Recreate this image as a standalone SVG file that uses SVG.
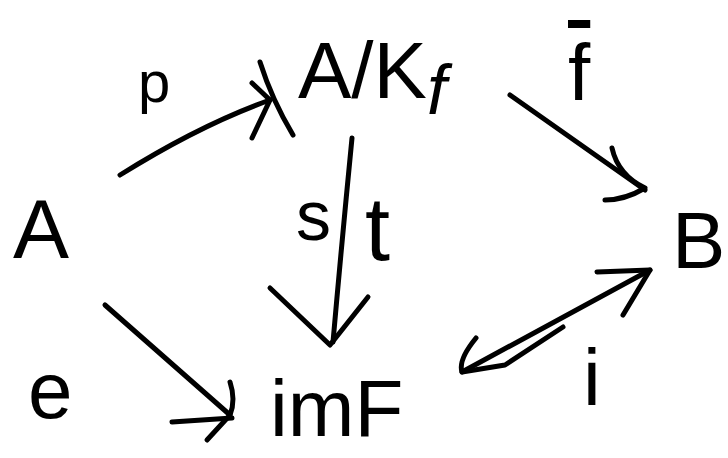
<svg xmlns="http://www.w3.org/2000/svg" width="728" height="458" viewBox="0 0 728 458">
<style>
.t{font-family:"Liberation Sans","DejaVu Sans",sans-serif;fill:#000}
.c path{fill:none;stroke:#000;stroke-width:5;stroke-linecap:round;stroke-linejoin:round}
</style>
<rect width="728" height="458" fill="#fff"/>
<g id="nodeA"><text class="t" x="13" y="258" font-size="84">A</text></g>
<g id="nodeAK"><text class="t" x="298" y="98" font-size="80">A/K<tspan font-size="70" dy="16" font-style="italic">f</tspan></text></g>
<g id="nodeB"><text class="t" x="672" y="268" font-size="80">B</text></g>
<g id="nodeIm"><text class="t" x="270" y="436" font-size="80">imF</text></g>
<g id="labels">
<text class="t" x="138" y="102" font-size="58">p</text>
<text class="t" x="568" y="100" font-size="80" text-decoration="overline">f</text>
<text class="t" x="296" y="240" font-size="70">s</text>
<text class="t" x="365" y="260" font-size="90">t</text>
<text class="t" x="28" y="418" font-size="80">e</text>
<text class="t" x="583" y="405" font-size="80">i</text>
</g>
<g id="connectors" class="c">
<path d="M120,175 Q200,125 270,100"/>
<path d="M252,83 L270,100 L252,138"/>
<path d="M260,62 Q272,100 293,135"/>
<path d="M510,95 L645,190"/>
<path d="M612,148 Q618,175 645,188 Q625,200 605,200"/>
<path d="M352,138 Q342,240 333,342"/>
<path d="M270,288 L330,345 L368,297"/>
<path d="M105,305 L230,415"/>
<path d="M230,382 Q236,400 230,415 L207,440"/>
<path d="M172,422 L232,418"/>
<path d="M462,372 L650,270"/>
<path d="M597,272 L650,270 L623,315"/>
<path d="M476,338 Q458,360 462,372 L505,365 L563,327"/>
</g>
</svg>
